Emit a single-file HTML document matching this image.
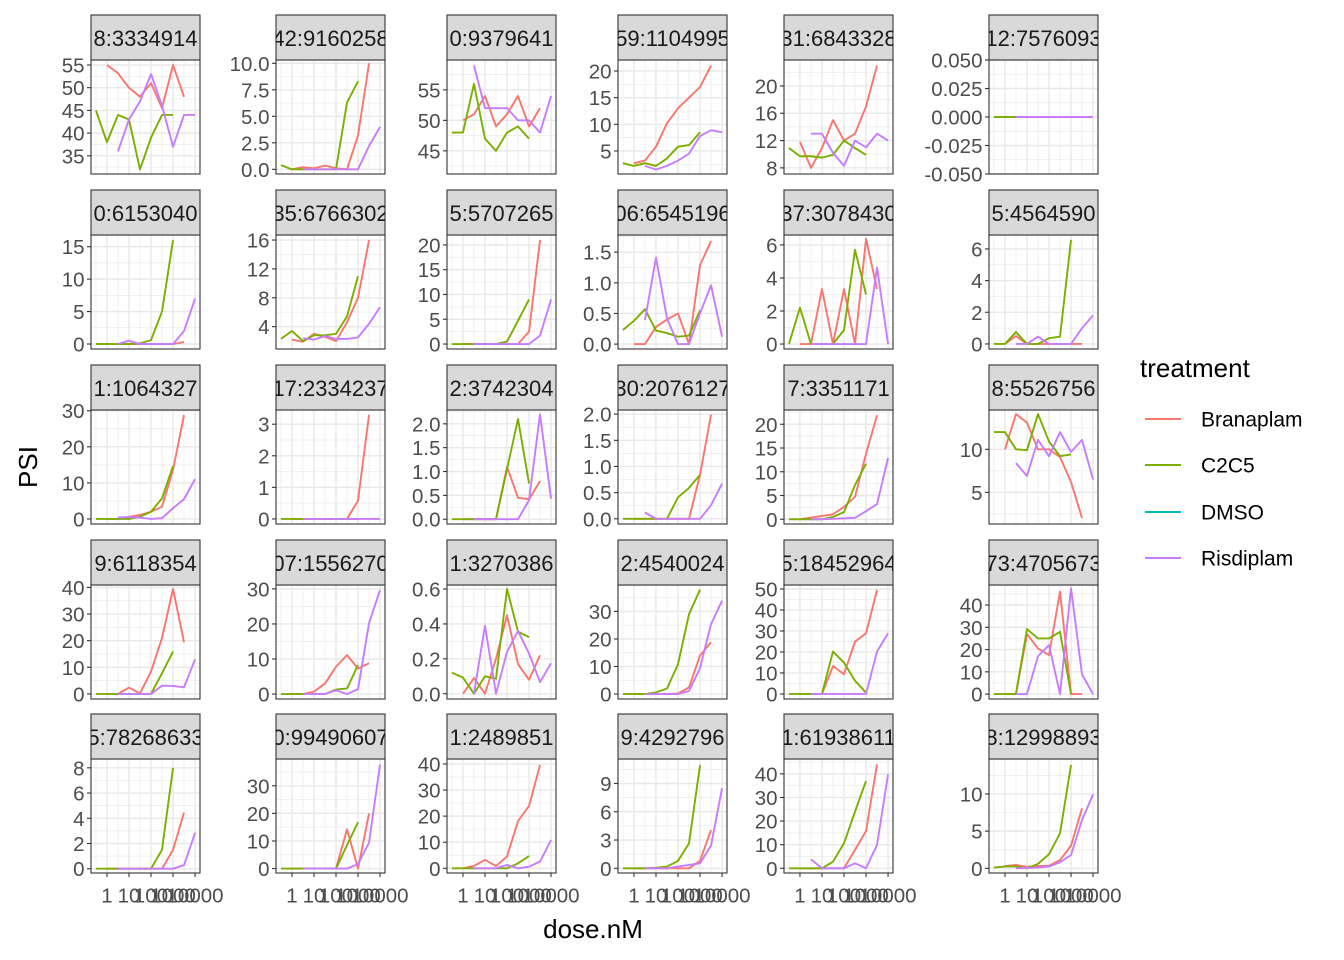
<!DOCTYPE html>
<html><head><meta charset="utf-8"><title>PSI vs dose</title>
<style>
html,body{margin:0;padding:0;background:#fff;}
svg{display:block;font-family:"Liberation Sans",sans-serif;}
</style></head>
<body>
<svg id="chart" width="1344" height="960" viewBox="0 0 1344 960" xmlns="http://www.w3.org/2000/svg">
<rect x="0" y="0" width="1344" height="960" fill="#fff"/>
<g id="panels"></g>
<text x="28" y="467" font-size="26" fill="#000" text-anchor="middle" dominant-baseline="central" transform="rotate(-90 28 467)">PSI</text>
<text x="593" y="929" font-size="26" fill="#000" text-anchor="middle" dominant-baseline="central">dose.nM</text>
<g>
<text x="1140" y="377" font-size="26" fill="#000">treatment</text>
<g><line x1="1145" y1="419" x2="1181" y2="419" stroke="#F8766D" stroke-width="2"/><text x="1201" y="420" font-size="21" dominant-baseline="central">Branaplam</text></g>
<g><line x1="1145" y1="465" x2="1181" y2="465" stroke="#7CAE00" stroke-width="2"/><text x="1201" y="466" font-size="21" dominant-baseline="central">C2C5</text></g>
<g><line x1="1145" y1="512" x2="1181" y2="512" stroke="#00BFC4" stroke-width="2"/><text x="1201" y="513" font-size="21" dominant-baseline="central">DMSO</text></g>
<g><line x1="1145" y1="558" x2="1181" y2="558" stroke="#C77CFF" stroke-width="2"/><text x="1201" y="559" font-size="21" dominant-baseline="central">Risdiplam</text></g>
</g>
</svg>
<script>
const doses = [0.316,1,3.16,10,31.6,100,316,1000,3162,10000];
const xTickValues = [1,10,100,1000,10000];
const xTickLabels = ["1","10","100","1000","10000"];
const panelLabels = ["8:3334914","42:9160258","0:9379641","59:1104995","31:6843328","12:7576093",
"0:6153040","35:6766302","5:5707265","06:6545196","37:3078430","5:4564590",
"1:1064327","17:2334237","2:3742304","30:2076127","7:3351171","8:5526756",
"9:6118354","07:1556270","1:3270386","2:4540024","5:18452964","73:4705673",
"5:78268633","0:99490607","1:2489851","9:4292796","1:61938611","8:12998893"];
const N=null;
const branaplam = [
[N,55,53.2,50,48,51,45.5,55,48,N],[N,0,0.2,0.1,0.35,0.1,0,3.2,10,N],[N,50,51,54,49,51,54,49,52,N],[N,2.7,3.2,5.8,10.2,13,15,17,21,N],[N,11.8,8,10.9,15,12,13,17,23,N],[N,N,N,N,N,N,N,N,N,N],
[N,0,0,0,0,0,0,0,0.3,N],[N,2.2,1.9,3,2.6,2,4.6,8,16,N],[N,0,0,0,0,0,0,2.5,21,N],[N,0,0,0.28,0.4,0.5,0,1.29,1.68,N],[N,0,0,3.33,0,3.33,0,6.36,3.33,N],[N,0,0.5,0,0,0,0,0,0,N],
[N,0,0,0.6,1.1,2,3.4,13.6,28.8,N],[N,0,0,0,0,0,0,0.58,3.3,N],[N,0,0,0,0,1.1,0.45,0.42,0.8,N],[N,0,0,0,0,0,0,0.84,1.99,N],[N,0,0.35,0.7,1.05,2.6,4.7,13.8,21.9,N],[N,10,14.1,13.1,10,10,9.1,6.2,2,N],
[N,0,0,2.4,0.2,8.4,21,39.4,19.4,N],[N,0,0,0.7,3,7.8,11.1,7.3,8.8,N],[N,0,0.09,0,0.2,0.45,0.17,0.08,0.22,N],[N,0,0,0,0,0.2,2.4,14,18.8,N],[N,0,0,0,13.3,9.4,24.9,28.9,49.5,N],[N,0,0,27,20.5,17.5,46,0,0,N],
[N,0,0,0,0,0,0,1.5,4.46,N],[N,0,0,0,0,0,14.2,0,20,N],[N,0,0.9,3.2,0.9,4.5,18.1,23.9,39.6,N],[N,0,0,0,0,0,0,0.8,4.06,N],[N,0,0,0,0,0,7.8,15.8,44,N],[N,0.3,0.45,0.2,0.3,0.35,1.1,3.05,8.07,N]];
const c2c5 = [
[45,38,44,43,32,39,44,44,N,N],[0.4,0,0,0,0,0,6.3,8.3,N,N],[48,48,56,47,45,48,49,47,N,N],[2.7,2.2,2.7,2.2,3.6,5.8,6.1,8.5,N,N],[10.9,9.7,9.7,9.5,9.9,12,10.9,9.9,N,N],[0,0,0,N,N,N,N,N,N,N],
[0,0,0,0,0.1,0.6,5,16,N,N],[2.3,3.4,2.0,2.8,2.8,3.0,5.4,11,N,N],[0,0,0,0,0,0.5,4.7,9,N,N],[0.23,0.38,0.57,0.22,0.18,0.12,0.14,0.55,N,N],[0,2.2,0,0,0,0.85,5.7,3.0,N,N],[0,0,0.75,0,0,0.36,0.46,6.57,N,N],
[0,0,0,0,0.6,2,5.7,14.7,N,N],[0,0,0,0,0,0,0,0,N,N],[0,0,0,0,0,1.05,2.1,0.75,N,N],[0,0,0,0,0,0.41,0.59,0.84,N,N],[0,0,0,0,0.5,1.5,7.2,11.7,N,N],[12,12,10,9.9,14.1,10.9,9.2,9.4,N,N],
[0,0,0,0,0,0,7.8,15.9,N,N],[0,0,0,0,0,1.3,1.6,8.3,N,N],[0.12,0.093,0,0.1,0.086,0.6,0.356,0.324,N,N],[0,0,0,0.6,2,10.8,29,37.9,N,N],[0,0,0,0,20.2,14.9,6.3,0.6,N,N],[0,0,0,29.2,25,25,28,0,N,N],
[0,0,0,0,0,0,1.5,8,N,N],[0,0,0,0,0,0,8.5,16.8,N,N],[0,0,0,0,0,0,1.9,4.7,N,N],[0,0,0,0.05,0.18,0.78,2.65,10.95,N,N],[0,0,0,0,2.8,10.6,24,37,N,N],[0.1,0.25,0.25,0,0.6,1.9,4.7,13.9,N,N]];
const risdiplam = [
[N,N,36,43,47,53,46,37,44,44],[N,N,0,0,0,0,0,0,2.2,4.0],[N,N,59,52,52,52,50,50,48,54],[N,N,2.2,1.5,2.2,3.2,4.5,7.8,8.9,8.5],[N,N,13,13,10.2,8.3,12,11,13,12],[N,N,0,0,0,0,0,0,0,0],
[N,N,0,0.5,0,0,0,0,2,7],[N,N,2.4,2.2,2.7,2.3,2.3,2.5,4.4,6.7],[N,N,0,0,0,0,0,0,1.7,9],[N,N,0.39,1.41,0.42,0,0,0.5,0.96,0.12],[N,N,0,0,0,0,0,0,4.63,0],[N,N,0,0,0.46,0,0,0,1,1.8],
[N,N,0.4,0.5,0.4,0,0.2,3,5.5,11],[N,N,0,0,0,0,0,0,0,0],[N,N,0,0,0,0,0,0.4,2.2,0.43],[N,N,0.12,0,0,0,0,0,0.26,0.67],[N,N,0,0,0.1,0.2,0.3,1.7,3.2,12.9],[N,N,8.4,6.9,11.1,9.2,12,9.7,11.1,6.5],
[N,N,0,0,0,0,3.1,3,2.5,13],[N,N,0,0,0,1.1,0,1.4,20.2,29.7],[N,N,0,0.39,0,0.24,0.36,0.23,0.067,0.175],[N,N,0,0,0,0,1.1,9.4,25.4,33.9],[N,N,0,0,0,0,0,0,20.2,28.9],[N,N,0,0,17,22,0,47.5,8.8,0],
[N,N,0,0,0,0,0,0,0.28,2.84],[N,N,0,0,0,0,0,1.6,9.4,37.7],[N,N,0,0,0,1.3,0,0.6,2.6,10.9],[N,N,0,0,0,0.18,0.35,0.53,2.4,8.5],[N,N,3.8,0,0,0,2.1,0,9.9,39.8],[N,N,0,0.05,0.1,0.25,0.8,1.8,6.5,9.95]];
const yLimits = [[31.0,56.1],[-0.44,10.31],[41.2,59.9],[0.68,22.06],[7.1,23.8],[-0.05,0.05],
[-0.77,16.8],[0.9,16.7],[-1,22],[-0.08,1.78],[-0.3,6.6],[-0.32,6.88],
[-1.4,30.2],[-0.16,3.45],[-0.1,2.29],[-0.1,2.08],[-1,23],[1.32,14.57],
[-1.9,40.9],[-1.4,31.1],[-0.03,0.623],[-1.8,39.6],[-2.4,51.9],[-2.2,49],
[-0.34,8.7],[-1.6,39.7],[-1.8,41.9],[-0.5,11.6],[-2,46.3],[-0.63,14.7]];
const yTickLabels = [
["35","40","45","50","55"],["0.0","2.5","5.0","7.5","10.0"],["45","50","55"],["5","10","15","20"],["8","12","16","20"],["-0.050","-0.025","0.000","0.025","0.050"],
["0","5","10","15"],["4","8","12","16"],["0","5","10","15","20"],["0.0","0.5","1.0","1.5"],["0","2","4","6"],["0","2","4","6"],
["0","10","20","30"],["0","1","2","3"],["0.0","0.5","1.0","1.5","2.0"],["0.0","0.5","1.0","1.5","2.0"],["0","5","10","15","20"],["5","10"],
["0","10","20","30","40"],["0","10","20","30"],["0.0","0.2","0.4","0.6"],["0","10","20","30"],["0","10","20","30","40","50"],["0","10","20","30","40"],
["0","2","4","6","8"],["0","10","20","30"],["0","10","20","30","40"],["0","3","6","9"],["0","10","20","30","40"],["0","5","10"]];

const colLefts=[91,276,447,618,784,989], rowTops=[60,235,410,585,759];
const PW=109, PH=114, STRIP=45;
const NS="http://www.w3.org/2000/svg";
const root=document.getElementById('panels');
function mk(tag,attrs,parent){const e=document.createElementNS(NS,tag);for(const k in attrs)e.setAttribute(k,attrs[k]);parent.appendChild(e);return e;}
const series=[["branaplam",branaplam,"#F8766D"],["c2c5",c2c5,"#7CAE00"],["risdiplam",risdiplam,"#C77CFF"]];

for(let p=0;p<30;p++){
  const r=Math.floor(p/6), c=p%6, L=colLefts[c], T=rowTops[r];
  const xs=v=>L+(Math.log10(v)+0.725)/4.95*PW;
  const [lo,hi]=yLimits[p];
  const ys=v=>T+PH-(v-lo)/(hi-lo)*PH;
  const g=mk('g',{},root);
  
  
  const bg=mk('rect',{x:L,y:T,width:PW,height:PH,fill:'#fff'},g);
  
  
  const ticks=yTickLabels[p].map(Number);
  const step=ticks.length>1?ticks[1]-ticks[0]:1;
  for(let k=-1;k<ticks.length;k++){const v=ticks[0]+(k+0.5)*step; if(v>lo&&v<hi){const yy=ys(v);const ln=mk('line',{x1:L,x2:L+PW,y1:yy,y2:yy,stroke:'#EBEBEB','stroke-width':0.7},g);}}
  for(let k=-0.5;k<=4.5;k+=1){const xx=L+(k+0.725)/4.95*PW; if(xx>L&&xx<L+PW){const ln=mk('line',{x1:xx,x2:xx,y1:T,y2:T+PH,stroke:'#EBEBEB','stroke-width':0.7},g);}}
  ticks.forEach(v=>{const yy=ys(v);const ln=mk('line',{x1:L,x2:L+PW,y1:yy,y2:yy,stroke:'#E8E8E8','stroke-width':1.4},g);});
  xTickValues.forEach(v=>{const xx=xs(v);const ln=mk('line',{x1:xx,x2:xx,y1:T,y2:T+PH,stroke:'#E8E8E8','stroke-width':1.4},g);});
  const cid='clip'+p;
  const cp=mk('clipPath',{id:cid},g); mk('rect',{x:L,y:T,width:PW,height:PH},cp);
  const sg=mk('g',{'clip-path':'url(#'+cid+')'},g);
  series.forEach(([nm,arr,col])=>{
    const vals=arr[p]; let d='';
    vals.forEach((v,i)=>{if(v!==null){d+=(d?'L':'M')+xs(doses[i]).toFixed(2)+' '+ys(v).toFixed(2);}});
    if(d){const path=mk('path',{d:d,fill:'none',stroke:col,'stroke-width':1.9,'stroke-linejoin':'round'},sg);
      
      }
  });
  const bd=mk('rect',{x:L,y:T,width:PW,height:PH,fill:'none',stroke:'#333','stroke-width':1.1},g);
  
  
  const scid='sclip'+p;
  const scp=mk('clipPath',{id:scid},g); mk('rect',{x:L,y:T-STRIP,width:PW,height:STRIP},scp);
  const st=mk('rect',{x:L,y:T-STRIP,width:PW,height:STRIP,fill:'#D9D9D9',stroke:'#333','stroke-width':1.1},g);
  
  
  const stt=mk('text',{x:L+PW/2,y:T-STRIP/2+1,'font-size':22,fill:'#1A1A1A','text-anchor':'middle','dominant-baseline':'central','clip-path':'url(#'+scid+')'},g);
  stt.textContent=panelLabels[p];
  
  
  yTickLabels[p].forEach((lab,i)=>{const yy=ys(ticks[i]);
    const tk=mk('line',{x1:L-4,x2:L,y1:yy,y2:yy,stroke:'#333','stroke-width':1.1},g);
    
    
    const tx=mk('text',{x:L-6.5,y:yy+1,'font-size':20.5,fill:'#4D4D4D','text-anchor':'end','dominant-baseline':'central'},g);
    tx.textContent=lab;
    
    });
  if(r===4){
    xTickValues.forEach((v,i)=>{const xx=xs(v);
      const tk=mk('line',{x1:xx,x2:xx,y1:T+PH,y2:T+PH+4,stroke:'#333','stroke-width':1.1},g);
      
      
      const tx=mk('text',{x:xx,y:T+PH+23,'font-size':20.5,fill:'#4D4D4D','text-anchor':'middle','dominant-baseline':'central'},g);
      tx.textContent=xTickLabels[i];
      
      });
  }
}
</script>
</body></html>
